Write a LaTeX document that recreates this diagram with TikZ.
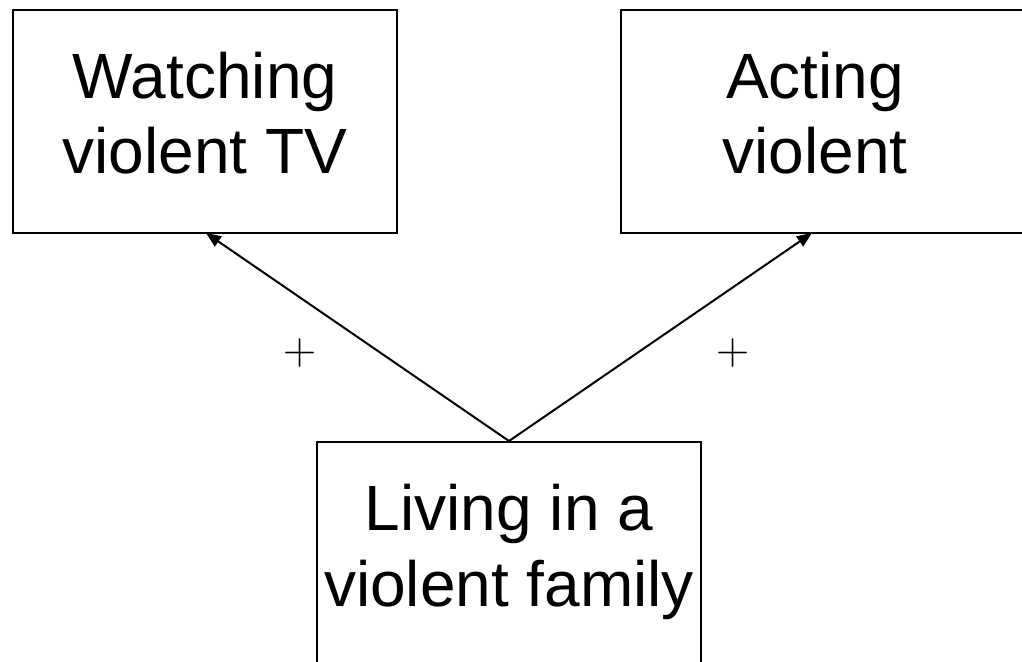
\documentclass[tikz,border=0pt]{standalone}
\usepackage{fontspec}
\setmainfont{Liberation Sans}
\newfontfamily\lmrfont{Latin Modern Roman}
\usetikzlibrary{arrows.meta}
\begin{document}
\begin{tikzpicture}[x=1pt,y=-1pt,
  boxstyle/.style={draw=black,line width=2.2pt,fill=none,rectangle,inner sep=0pt},
  txt/.style={align=center,inner sep=0pt,font=\fontsize{64}{75.5}\selectfont},
  plus/.style={inner sep=0pt,font=\lmrfont\fontsize{46}{50}\selectfont},
  conn/.style={line width=2pt,-{Triangle[length=15pt,width=12pt]}}]
\useasboundingbox (0,0) rectangle (1022,661);
\clip (0,0) rectangle (1022,661);
\node[boxstyle,minimum width=384pt,minimum height=223pt] (lb) at (205,121.5) {};
\node[boxstyle,minimum width=409pt,minimum height=223pt] (rb) at (825.5,121.5) {};
\node[boxstyle,minimum width=384pt,minimum height=240pt] (bb) at (509,562) {};
\node[txt] (lt) at (205,113) {Watching\\violent TV};
\node[txt] (rt) at (815,113) {Acting\\violent};
\node[txt] (bt) at (509,552) {Living in a\\violent family};
\coordinate (la) at (206,233);
\coordinate (ra) at (812,233);
\coordinate (bs) at (509,441);
\draw[conn] (bs) -- (la);
\draw[conn] (bs) -- (ra);
\node[plus] (p1) at (300.5,353) {+};
\node[plus] (p2) at (733,353) {+};
\end{tikzpicture}
\end{document}
